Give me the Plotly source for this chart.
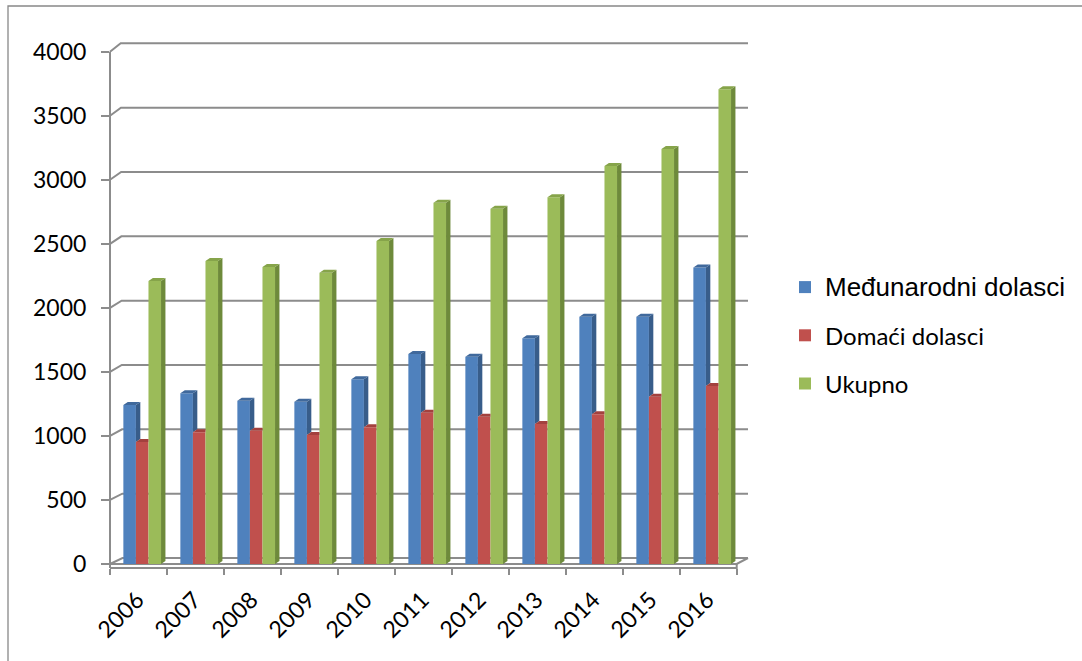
import plotly.graph_objects as go

# Tourist arrivals (thousands) by year
years = ["2006", "2007", "2008", "2009", "2010", "2011",
         "2012", "2013", "2014", "2015", "2016"]
international = [1241, 1333, 1275, 1267, 1442, 1639, 1618, 1762, 1931, 1931, 2316]
domestic = [952, 1028, 1041, 1007, 1067, 1181, 1150, 1093, 1169, 1306, 1390]
total = [2209, 2365, 2318, 2274, 2521, 2820, 2774, 2863, 3107, 3240, 3706]
y_ticks = [0, 500, 1000, 1500, 2000, 2500, 3000, 3500, 4000]

series = [
    ('<span style="font-family:Liberation Sans;font-size:26px">Međunarodni dolasci</span>',
     international, "#4f81bd", "#385d8a", "#40699c"),
    ("Domaći dolasci", domestic, "#c0504d", "#8c3a37", "#a3413e"),
    ("Ukupno", total, "#9bbb59", "#6e8a3b", "#86a44a"),
]

# ---- page / plot-area geometry (pixels) ----
W, H = 1082, 661
PL, PR, PT, PB = 110, 760, 20, 568          # plot area edges
X_PX = 57.0                                  # pixels per category
X_CENTER0 = 142.2                            # pixel of first category centre
Y_PX = (564 - 51.7) / 4000                   # pixels per unit on the front plane
Y_ZERO = 564                                 # pixel row of value 0 (front plane)

x_range = [(PL - X_CENTER0) / X_PX, (PR - X_CENTER0) / X_PX]
y_range = [-(PB - Y_ZERO) / Y_PX, (Y_ZERO - PT) / Y_PX]

GROUP_W = 0.661                              # share of a slot filled by one cluster
BAR_W = GROUP_W / 3
SIDE_DX = 4.4 / X_PX                         # depth of a column, in axis units
SIDE_DY = 3.0 / Y_PX

FRONT_LEFT, FRONT_RIGHT, BACK_RIGHT = 110, 736.7, 748
GRID = "#8c8c8c"


def px(xp):
    return (xp - PL) / (PR - PL)


def py(yp):
    return (PB - yp) / (PB - PT)


def wall_offset(v):
    """Pixel shift from the front edge to the back wall at level v."""
    f = v / 4000
    return 12.5 - 1.8 * f, 6.0 + 2.4 * f


shapes = []
# side-wall diagonals + back-wall gridlines
for v in y_ticks:
    yf = Y_ZERO - v * Y_PX
    dx, dy = wall_offset(v)
    path = (f"M{px(FRONT_LEFT)},{py(yf)} L{px(FRONT_LEFT + dx)},{py(yf - dy)} "
            f"L{px(BACK_RIGHT)},{py(yf - dy)}")
    shapes.append(dict(type="path", path=path, xref="paper", yref="paper",
                       line=dict(color=GRID, width=2), layer="below"))
# floor: front top edge, right diagonal, front face
dx0, dy0 = wall_offset(0)
shapes.append(dict(type="path", xref="paper", yref="paper", layer="below",
                   path=(f"M{px(FRONT_LEFT)},{py(Y_ZERO)} L{px(FRONT_RIGHT)},{py(Y_ZERO)} "
                         f"L{px(BACK_RIGHT)},{py(Y_ZERO - dy0)}"),
                   line=dict(color=GRID, width=2)))
shapes.append(dict(type="path", xref="paper", yref="paper", layer="below",
                   path=(f"M{px(FRONT_LEFT)},{py(PB)} L{px(FRONT_RIGHT)},{py(PB)} "
                         f"L{px(FRONT_RIGHT)},{py(Y_ZERO)}"),
                   line=dict(color=GRID, width=2)))
# vertical value axis
shapes.append(dict(type="line", xref="paper", yref="paper", layer="below",
                   x0=px(FRONT_LEFT), x1=px(FRONT_LEFT),
                   y0=py(PB), y1=py(Y_ZERO - 4000 * Y_PX),
                   line=dict(color=GRID, width=2)))
# outer chart border
shapes.append(dict(type="rect", xref="paper", yref="paper", layer="below",
                   x0=px(8), x1=px(W + 20), y0=py(H + 20), y1=py(6),
                   line=dict(color="#888888", width=1.3)))

fig = go.Figure()

# front faces of the columns
for i, (name, vals, front, side, cap) in enumerate(series):
    fig.add_trace(go.Bar(
        x=list(range(len(years))), y=vals, name=name,
        marker=dict(color=front, line=dict(width=0)),
        legendgroup=str(i), offsetgroup=str(i),
    ))

# right side faces and top caps, drawn left to right inside each cluster
for i, (name, vals, front, side, cap) in enumerate(series):
    nxt = series[i + 1][1] if i + 1 < len(series) else [0] * len(vals)
    sx, sy, cx, cy = [], [], [], []
    for k, v in enumerate(vals):
        xl = k - GROUP_W / 2 + i * BAR_W
        xr = xl + BAR_W
        lo = max(0, nxt[k])
        if v > lo:
            sx += [xr, xr, xr + SIDE_DX, xr + SIDE_DX, xr, None]
            sy += [lo, v, v + SIDE_DY, lo + SIDE_DY, lo, None]
        if nxt[k] > v:
            cx += [xl, xr, xr, xl + SIDE_DX, xl, None]
            cy += [v, v, v + SIDE_DY, v + SIDE_DY, v, None]
        else:
            cx += [xl, xr, xr + SIDE_DX, xl + SIDE_DX, xl, None]
            cy += [v, v, v + SIDE_DY, v + SIDE_DY, v, None]
    fig.add_trace(go.Scatter(x=sx, y=sy, mode="lines", fill="toself",
                             fillcolor=side, line=dict(width=0),
                             showlegend=False, hoverinfo="skip"))
    fig.add_trace(go.Scatter(x=cx, y=cy, mode="lines", fill="toself",
                             fillcolor=cap, line=dict(width=0),
                             showlegend=False, hoverinfo="skip"))

boundary_shift = (FRONT_LEFT + 0.4 - X_CENTER0) / X_PX
label_shift = -5 / X_PX
fig.update_layout(
    width=W, height=H,
    margin=dict(l=PL, r=W - PR, t=PT, b=H - PB, pad=0),
    paper_bgcolor="white", plot_bgcolor="rgba(0,0,0,0)",
    barmode="group", bargap=1 - GROUP_W, bargroupgap=0,
    shapes=shapes,
    font=dict(family="Lato", color="black"),
    xaxis=dict(
        range=x_range, showgrid=False, zeroline=False, showline=False,
        tickmode="array", tickvals=[k + label_shift for k in range(len(years))],
        ticktext=years, ticks="", tickangle=-45,
        tickfont=dict(family="Lato", size=23), ticklabelstandoff=13,
        minor=dict(tickmode="array",
                   tickvals=[k + boundary_shift for k in range(len(years) + 1)],
                   ticks="outside", ticklen=6, tickwidth=2, tickcolor=GRID),
    ),
    yaxis=dict(
        range=y_range, showgrid=False, zeroline=False, showline=False,
        tickmode="array", tickvals=y_ticks,
        ticks="outside", ticklen=8, tickwidth=2, tickcolor=GRID,
        tickfont=dict(family="Lato", size=23), ticklabelstandoff=10,
    ),
    legend=dict(
        x=px(785), y=py(265), xanchor="left", yanchor="top",
        font=dict(family="Lato", size=24, color="black"),
        tracegroupgap=14, bgcolor="rgba(0,0,0,0)",
    ),
)

fig.write_html("out.html")
